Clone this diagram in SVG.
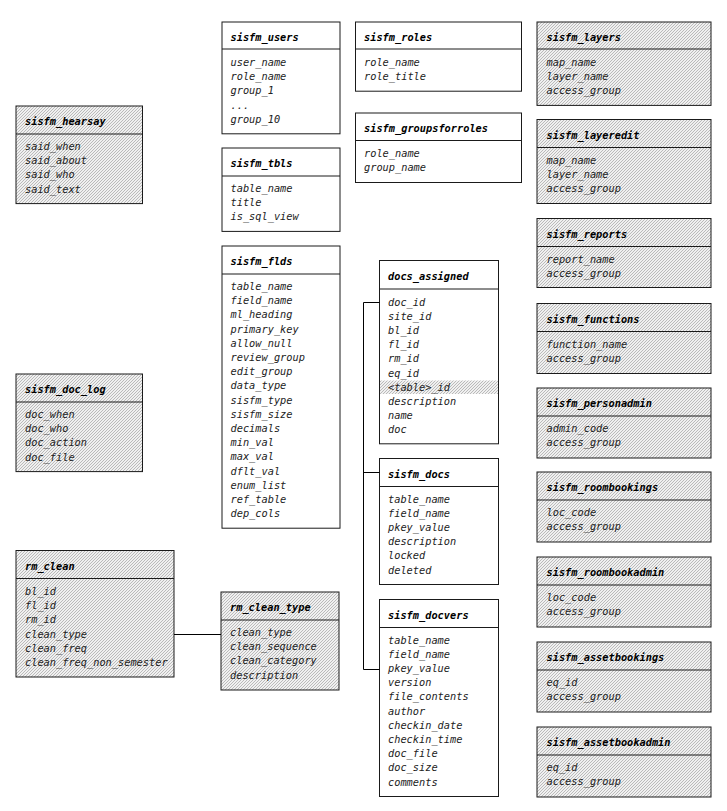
<svg xmlns="http://www.w3.org/2000/svg" width="727" height="811" viewBox="0 0 727 811">
<defs>
<pattern id="hatch" patternUnits="userSpaceOnUse" width="3" height="3">
<rect width="3" height="3" fill="#f0f0f0"/>
<rect x="0" y="2" width="1" height="1" fill="#bababa"/>
<rect x="1" y="1" width="1" height="1" fill="#bababa"/>
<rect x="2" y="0" width="1" height="1" fill="#bababa"/>
</pattern>
</defs>
<style>
.box{fill:#fff;stroke:#1a1a1a;stroke-width:1}
.g .box{fill:url(#hatch)}
.sep{stroke:#1a1a1a;stroke-width:1}
.t{font-family:"DejaVu Sans Mono","Liberation Mono",monospace;font-size:10.3px;font-style:italic;font-weight:bold;fill:#000}
.f{font-family:"DejaVu Sans Mono","Liberation Mono",monospace;font-size:10.3px;font-style:italic;fill:#222}
.conn{stroke:#000;stroke-width:1;fill:none}
</style>
<rect width="727" height="811" fill="#fff"/>

<g id="sisfm_hearsay" class="g">
<rect class="box" x="16" y="106" width="126.5" height="97.6"/>
<line class="sep" x1="16" y1="134" x2="142.5" y2="134"/>
<text class="t" x="25" y="125">sisfm_hearsay</text>
<text class="f" x="25" y="150">said_when</text>
<text class="f" x="25" y="164.2">said_about</text>
<text class="f" x="25" y="178.4">said_who</text>
<text class="f" x="25" y="192.6">said_text</text>
</g>

<g id="sisfm_doc_log" class="g">
<rect class="box" x="16" y="374" width="126.5" height="97.6"/>
<line class="sep" x1="16" y1="402" x2="142.5" y2="402"/>
<text class="t" x="25" y="393">sisfm_doc_log</text>
<text class="f" x="25" y="418">doc_when</text>
<text class="f" x="25" y="432.2">doc_who</text>
<text class="f" x="25" y="446.4">doc_action</text>
<text class="f" x="25" y="460.6">doc_file</text>
</g>

<g id="rm_clean" class="g">
<rect class="box" x="16" y="550.5" width="158" height="126.5"/>
<line class="sep" x1="16" y1="578.5" x2="174" y2="578.5"/>
<text class="t" x="25" y="569.5">rm_clean</text>
<text class="f" x="25" y="595">bl_id</text>
<text class="f" x="25" y="609.2">fl_id</text>
<text class="f" x="25" y="623.4">rm_id</text>
<text class="f" x="25" y="637.6">clean_type</text>
<text class="f" x="25" y="651.8">clean_freq</text>
<text class="f" x="25" y="666">clean_freq_non_semester</text>
</g>

<g id="rm_clean_type" class="g">
<rect class="box" x="221" y="592" width="118" height="98"/>
<line class="sep" x1="221" y1="620" x2="339" y2="620"/>
<text class="t" x="230" y="611">rm_clean_type</text>
<text class="f" x="230" y="636">clean_type</text>
<text class="f" x="230" y="650.2">clean_sequence</text>
<text class="f" x="230" y="664.4">clean_category</text>
<text class="f" x="230" y="678.6">description</text>
</g>

<g id="sisfm_users">
<rect class="box" x="222" y="22" width="118" height="111.8"/>
<line class="sep" x1="222" y1="49" x2="340" y2="49"/>
<text class="t" x="230.5" y="41">sisfm_users</text>
<text class="f" x="230.5" y="66">user_name</text>
<text class="f" x="230.5" y="80.2">role_name</text>
<text class="f" x="230.5" y="94.4">group_1</text>
<text class="f" x="230.5" y="108.6">...</text>
<text class="f" x="230.5" y="122.8">group_10</text>
</g>

<g id="sisfm_tbls">
<rect class="box" x="222" y="148" width="118" height="83.4"/>
<line class="sep" x1="222" y1="176" x2="340" y2="176"/>
<text class="t" x="230.5" y="167">sisfm_tbls</text>
<text class="f" x="230.5" y="192">table_name</text>
<text class="f" x="230.5" y="206.2">title</text>
<text class="f" x="230.5" y="220.4">is_sql_view</text>
</g>

<g id="sisfm_flds">
<rect class="box" x="222" y="246" width="118" height="282.2"/>
<line class="sep" x1="222" y1="274" x2="340" y2="274"/>
<text class="t" x="230.5" y="265">sisfm_flds</text>
<text class="f" x="230.5" y="290">table_name</text>
<text class="f" x="230.5" y="304.2">field_name</text>
<text class="f" x="230.5" y="318.4">ml_heading</text>
<text class="f" x="230.5" y="332.6">primary_key</text>
<text class="f" x="230.5" y="346.8">allow_null</text>
<text class="f" x="230.5" y="361">review_group</text>
<text class="f" x="230.5" y="375.2">edit_group</text>
<text class="f" x="230.5" y="389.4">data_type</text>
<text class="f" x="230.5" y="403.6">sisfm_type</text>
<text class="f" x="230.5" y="417.8">sisfm_size</text>
<text class="f" x="230.5" y="432">decimals</text>
<text class="f" x="230.5" y="446.2">min_val</text>
<text class="f" x="230.5" y="460.4">max_val</text>
<text class="f" x="230.5" y="474.6">dflt_val</text>
<text class="f" x="230.5" y="488.8">enum_list</text>
<text class="f" x="230.5" y="503">ref_table</text>
<text class="f" x="230.5" y="517.2">dep_cols</text>
</g>

<g id="sisfm_roles">
<rect class="box" x="355.5" y="22" width="166" height="69.2"/>
<line class="sep" x1="355.5" y1="49" x2="521.5" y2="49"/>
<text class="t" x="364" y="41">sisfm_roles</text>
<text class="f" x="364" y="66">role_name</text>
<text class="f" x="364" y="80.2">role_title</text>
</g>

<g id="sisfm_groupsforroles">
<rect class="box" x="355.5" y="113" width="166" height="69.5"/>
<line class="sep" x1="355.5" y1="140.5" x2="521.5" y2="140.5"/>
<text class="t" x="364" y="132">sisfm_groupsforroles</text>
<text class="f" x="364" y="157">role_name</text>
<text class="f" x="364" y="171.2">group_name</text>
</g>

<g id="docs_assigned">
<rect class="box" x="379.5" y="260.5" width="119" height="183.3"/>
<rect x="380" y="380.5" width="118" height="13.5" fill="url(#hatch)"/>
<line class="sep" x1="379.5" y1="289" x2="498.5" y2="289"/>
<text class="t" x="388" y="280">docs_assigned</text>
<text class="f" x="388" y="305.5">doc_id</text>
<text class="f" x="388" y="319.7">site_id</text>
<text class="f" x="388" y="333.9">bl_id</text>
<text class="f" x="388" y="348.1">fl_id</text>
<text class="f" x="388" y="362.3">rm_id</text>
<text class="f" x="388" y="376.5">eq_id</text>
<text class="f" x="388" y="390.7">&lt;table&gt;_id</text>
<text class="f" x="388" y="404.9">description</text>
<text class="f" x="388" y="419.1">name</text>
<text class="f" x="388" y="433.3">doc</text>
</g>

<g id="sisfm_docs">
<rect class="box" x="379.5" y="458.5" width="119" height="126"/>
<line class="sep" x1="379.5" y1="486.5" x2="498.5" y2="486.5"/>
<text class="t" x="388" y="477.5">sisfm_docs</text>
<text class="f" x="388" y="502.5">table_name</text>
<text class="f" x="388" y="516.7">field_name</text>
<text class="f" x="388" y="530.9">pkey_value</text>
<text class="f" x="388" y="545.1">description</text>
<text class="f" x="388" y="559.3">locked</text>
<text class="f" x="388" y="573.5">deleted</text>
</g>

<g id="sisfm_docvers">
<rect class="box" x="379.5" y="599.5" width="119" height="197"/>
<line class="sep" x1="379.5" y1="627.5" x2="498.5" y2="627.5"/>
<text class="t" x="388" y="618.5">sisfm_docvers</text>
<text class="f" x="388" y="643.5">table_name</text>
<text class="f" x="388" y="657.7">field_name</text>
<text class="f" x="388" y="671.9">pkey_value</text>
<text class="f" x="388" y="686.1">version</text>
<text class="f" x="388" y="700.3">file_contents</text>
<text class="f" x="388" y="714.5">author</text>
<text class="f" x="388" y="728.7">checkin_date</text>
<text class="f" x="388" y="742.9">checkin_time</text>
<text class="f" x="388" y="757.1">doc_file</text>
<text class="f" x="388" y="771.3">doc_size</text>
<text class="f" x="388" y="785.5">comments</text>
</g>

<g id="sisfm_layers" class="g">
<rect class="box" x="537" y="22" width="174" height="83.4"/>
<line class="sep" x1="537" y1="49" x2="711" y2="49"/>
<text class="t" x="546.5" y="41">sisfm_layers</text>
<text class="f" x="546.5" y="66">map_name</text>
<text class="f" x="546.5" y="80.2">layer_name</text>
<text class="f" x="546.5" y="94.4">access_group</text>
</g>

<g id="sisfm_layeredit" class="g">
<rect class="box" x="537" y="119.5" width="174" height="84"/>
<line class="sep" x1="537" y1="147.5" x2="711" y2="147.5"/>
<text class="t" x="546.5" y="138.5">sisfm_layeredit</text>
<text class="f" x="546.5" y="163.5">map_name</text>
<text class="f" x="546.5" y="177.7">layer_name</text>
<text class="f" x="546.5" y="191.9">access_group</text>
</g>

<g id="sisfm_reports" class="g">
<rect class="box" x="537" y="218.5" width="174" height="69"/>
<line class="sep" x1="537" y1="246.5" x2="711" y2="246.5"/>
<text class="t" x="546.5" y="237.5">sisfm_reports</text>
<text class="f" x="546.5" y="262.5">report_name</text>
<text class="f" x="546.5" y="276.7">access_group</text>
</g>

<g id="sisfm_functions" class="g">
<rect class="box" x="537" y="303.5" width="174" height="70"/>
<line class="sep" x1="537" y1="331.5" x2="711" y2="331.5"/>
<text class="t" x="546.5" y="322.5">sisfm_functions</text>
<text class="f" x="546.5" y="347.5">function_name</text>
<text class="f" x="546.5" y="361.7">access_group</text>
</g>

<g id="sisfm_personadmin" class="g">
<rect class="box" x="537" y="388" width="174" height="70"/>
<line class="sep" x1="537" y1="416" x2="711" y2="416"/>
<text class="t" x="546.5" y="407">sisfm_personadmin</text>
<text class="f" x="546.5" y="432">admin_code</text>
<text class="f" x="546.5" y="446.2">access_group</text>
</g>

<g id="sisfm_roombookings" class="g">
<rect class="box" x="537" y="472" width="174" height="70"/>
<line class="sep" x1="537" y1="500" x2="711" y2="500"/>
<text class="t" x="546.5" y="491">sisfm_roombookings</text>
<text class="f" x="546.5" y="516">loc_code</text>
<text class="f" x="546.5" y="530.2">access_group</text>
</g>

<g id="sisfm_roombookadmin" class="g">
<rect class="box" x="537" y="557" width="174" height="70"/>
<line class="sep" x1="537" y1="585" x2="711" y2="585"/>
<text class="t" x="546.5" y="576">sisfm_roombookadmin</text>
<text class="f" x="546.5" y="601">loc_code</text>
<text class="f" x="546.5" y="615.2">access_group</text>
</g>

<g id="sisfm_assetbookings" class="g">
<rect class="box" x="537" y="642" width="174" height="70"/>
<line class="sep" x1="537" y1="670" x2="711" y2="670"/>
<text class="t" x="546.5" y="661">sisfm_assetbookings</text>
<text class="f" x="546.5" y="686">eq_id</text>
<text class="f" x="546.5" y="700.2">access_group</text>
</g>

<g id="sisfm_assetbookadmin" class="g">
<rect class="box" x="537" y="727" width="174" height="70"/>
<line class="sep" x1="537" y1="755" x2="711" y2="755"/>
<text class="t" x="546.5" y="746">sisfm_assetbookadmin</text>
<text class="f" x="546.5" y="771">eq_id</text>
<text class="f" x="546.5" y="785.2">access_group</text>
</g>

<g id="connectors">
<path class="conn" d="M379.5,302.5 H363.5 V669.5 H379.5"/>
<path class="conn" d="M363.5,472.5 H379.5"/>
<path class="conn" d="M174,634.5 H221"/>
</g>
</svg>
